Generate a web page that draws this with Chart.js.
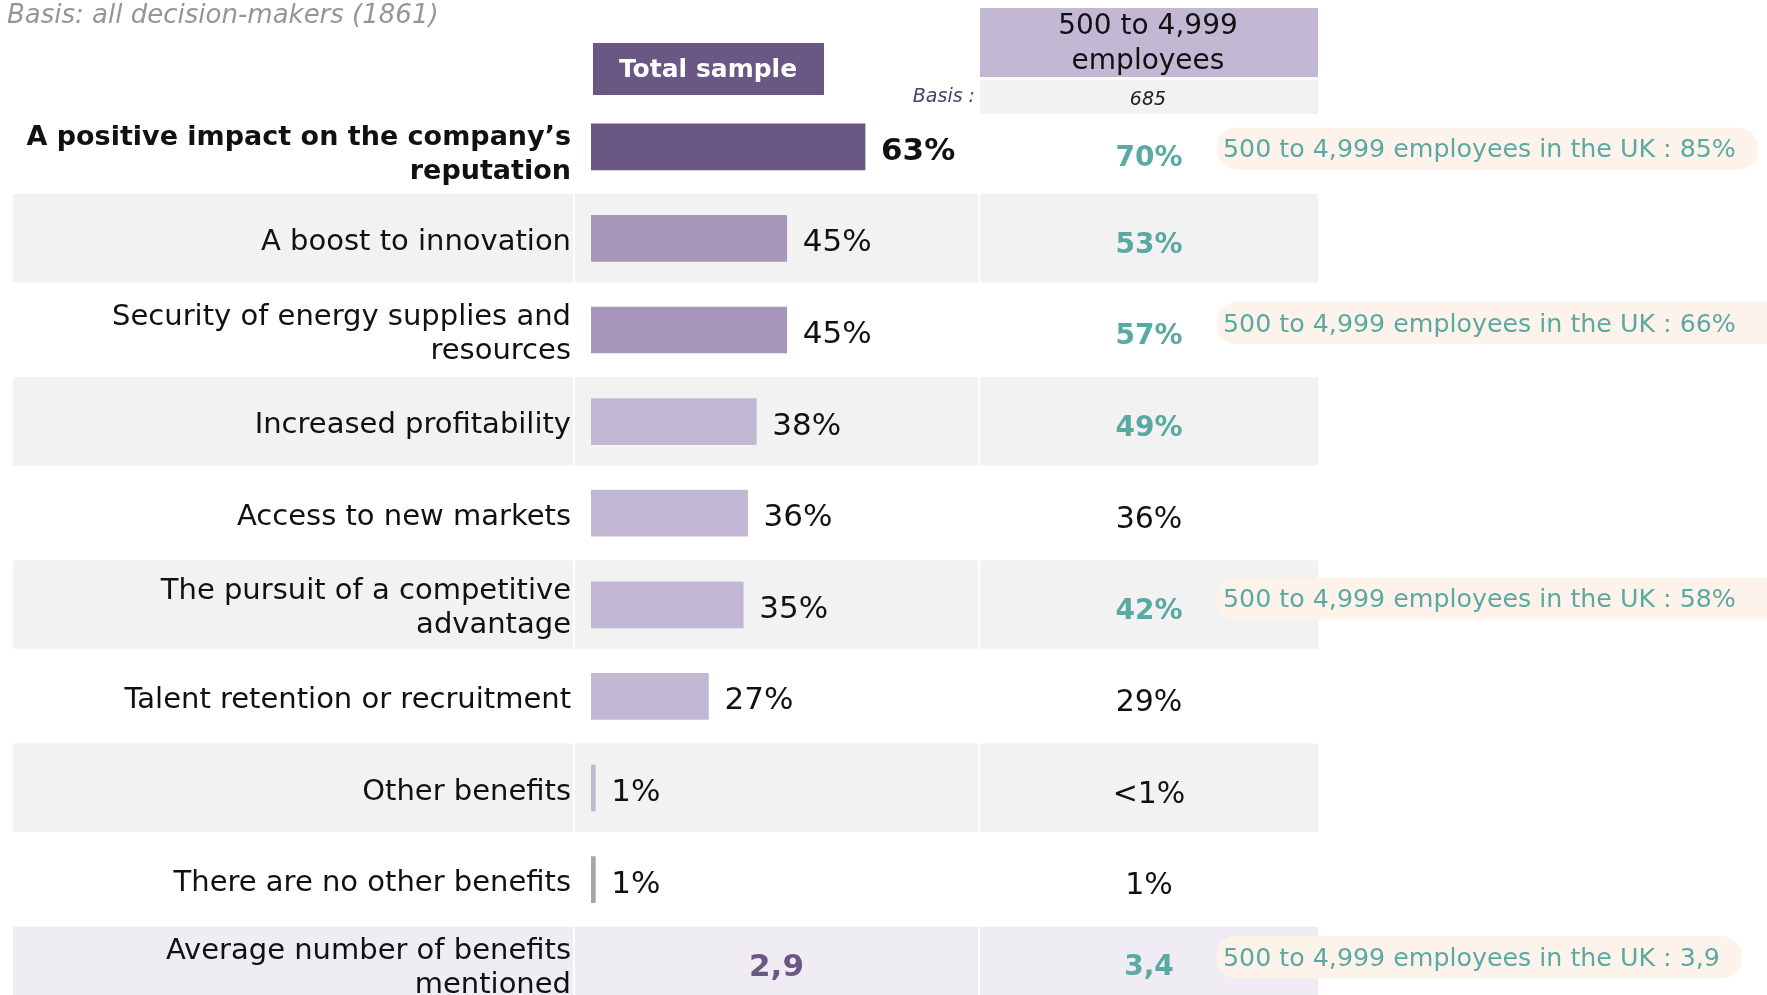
<!DOCTYPE html>
<html>
<head>
<meta charset="utf-8">
<script src="https://cdn.jsdelivr.net/npm/chart.js@4.4.1/dist/chart.umd.min.js"></script>
<style>
    html, body { margin: 0; padding: 0; background: #fff; overflow: hidden; }
    #wrap { position: relative; width: 1767px; height: 995px; overflow: hidden; }
    #myChart { position: absolute; left: 0; top: 0; }
</style>
</head>
<body>
<div id="wrap"><canvas id="myChart" width="1767" height="1020"></canvas></div>
<script>
//data
var subtitle = "Basis: all decision-makers (1861)";
var totalHeader = "Total sample";
var segmentHeader = ["500 to 4,999", "employees"];
var segmentBasis = "685";

var categories = [
    ["A positive impact on the company\u2019s", "reputation"],
    "A boost to innovation",
    ["Security of energy supplies and", "resources"],
    "Increased profitability",
    "Access to new markets",
    ["The pursuit of a competitive", "advantage"],
    "Talent retention or recruitment",
    "Other benefits",
    "There are no other benefits",
    ["Average number of benefits", "mentioned"]
];
var totalValues = [63, 45, 45, 38, 36, 35, 27, 1, 1, null];
var totalLabels = ["63%", "45%", "45%", "38%", "36%", "35%", "27%", "1%", "1%", "2,9"];
var segmentLabels = ["70%", "53%", "57%", "49%", "36%", "42%", "29%", "<1%", "1%", "3,4"];
var segmentSignificant = [true, true, true, true, false, true, false, false, false, true];
var ukNotes = [
    "500 to 4,999 employees in the UK : 85%", null,
    "500 to 4,999 employees in the UK : 66%", null, null,
    "500 to 4,999 employees in the UK : 58%", null, null, null,
    "500 to 4,999 employees in the UK : 3,9"
];

//colours
var DARK = "#6b5784";
var MID = "#a796ba";
var LIGHT = "#c3b8d3";
var GREY_BAR = "#a6a6a6";
var BAND = "#f2f2f2";
var BAND_AVG = "#efecf3";
var TEAL = "#5aa9a3";
var PILL = "#fdf3ea";
var FONT = '"DejaVu Sans", sans-serif';

var barColors = [DARK, MID, MID, LIGHT, LIGHT, LIGHT, LIGHT, LIGHT, GREY_BAR, LIGHT];

//column edges in px
var COL_LABEL = [13, 573];
var COL_BAR = [575, 978];
var COL_SEG = [980, 1318];
var pillOffset = [2, 0, -7, 0, 0, -6, 0, 0, 0, -14];
var pillExtra = [0, 0, 40, 0, 0, 40, 0, 0, 0, 0];

function rowY(chart, i) {
    return chart.scales.y.getPixelForValue(i);
}

function roundRect(ctx, x, y, w, h, r) {
    ctx.beginPath();
    ctx.moveTo(x + r, y);
    ctx.lineTo(x + w - r, y);
    ctx.arc(x + w - r, y + r, r, -Math.PI / 2, 0);
    ctx.lineTo(x + w, y + h - r);
    ctx.arc(x + w - r, y + h - r, r, 0, Math.PI / 2);
    ctx.lineTo(x + r, y + h);
    ctx.arc(x + r, y + h - r, r, Math.PI / 2, Math.PI);
    ctx.lineTo(x, y + r);
    ctx.arc(x + r, y + r, r, Math.PI, Math.PI * 1.5);
    ctx.closePath();
}

//backgrounds + header boxes, under the bars
var tablePlugin = {
    id: "tableBack",
    beforeDatasetsDraw: function (chart) {
        var ctx = chart.ctx;
        ctx.save();
        for (var i = 0; i < categories.length; i++) {
            var last = i === categories.length - 1;
            if (i % 2 === 1 || last) {
                var y = rowY(chart, i);
                ctx.fillStyle = last ? BAND_AVG : BAND;
                var top = y - 44.5, h = 88.5;
                if (last) { h = 120; }
                [COL_LABEL, COL_BAR, COL_SEG].forEach(function (c) {
                    ctx.fillRect(c[0], top, c[1] - c[0], h);
                });
            }
        }

        //subtitle
        ctx.fillStyle = "#969696";
        ctx.font = "italic 26px " + FONT;
        ctx.textAlign = "left";
        ctx.textBaseline = "middle";
        ctx.fillText(subtitle, 7, 16);

        //total sample box
        ctx.fillStyle = DARK;
        ctx.fillRect(593, 43, 231, 52);
        ctx.fillStyle = "#fff";
        ctx.font = "bold 25px " + FONT;
        ctx.textAlign = "center";
        ctx.fillText(totalHeader, 708, 70);

        //segment header
        ctx.fillStyle = LIGHT;
        ctx.fillRect(COL_SEG[0], 8, COL_SEG[1] - COL_SEG[0], 69);
        ctx.fillStyle = "#111";
        ctx.font = "28px " + FONT;
        ctx.fillText(segmentHeader[0], 1148, 27);
        ctx.fillText(segmentHeader[1], 1148, 62);

        //basis
        ctx.fillStyle = BAND;
        ctx.fillRect(COL_SEG[0], 80, COL_SEG[1] - COL_SEG[0], 34);
        ctx.fillStyle = "#222";
        ctx.font = "italic 19px " + FONT;
        ctx.fillText(segmentBasis, 1148, 100);
        ctx.fillStyle = "#4d4060";
        ctx.textAlign = "right";
        ctx.fillText("Basis :", 975, 97);
        ctx.restore();
    },
    afterDatasetsDraw: function (chart) {
        var ctx = chart.ctx;
        var meta = chart.getDatasetMeta(0);
        ctx.save();
        ctx.textBaseline = "middle";
        for (var i = 0; i < categories.length; i++) {
            var y = rowY(chart, i);
            var last = i === categories.length - 1;
            var yc = last ? y - 3 : y + 4;

            //row label
            var lines = Array.isArray(categories[i]) ? categories[i] : [categories[i]];
            ctx.fillStyle = "#111";
            ctx.font = (i === 0 ? "bold 27px " : "29px ") + FONT;
            ctx.textAlign = "right";
            var ly = i === 0 ? yc + 4 : yc;
            for (var l = 0; l < lines.length; l++) {
                ctx.fillText(lines[l], 571, ly + (l - (lines.length - 1) / 2) * 34);
            }

            //total value
            if (totalValues[i] !== null) {
                var bar = meta.data[i];
                ctx.textAlign = "left";
                ctx.font = (i === 0 ? "bold " : "") + "31px " + FONT;
                ctx.fillStyle = "#111";
                ctx.fillText(totalLabels[i], bar.x + 16, y + 5);
            } else {
                ctx.textAlign = "center";
                ctx.font = "bold 31px " + FONT;
                ctx.fillStyle = DARK;
                ctx.fillText(totalLabels[i], (COL_BAR[0] + COL_BAR[1]) / 2, yc);
            }

            //segment value
            ctx.textAlign = "center";
            ctx.font = (segmentSignificant[i] ? "bold 28px " : "30px ") + FONT;
            ctx.fillStyle = segmentSignificant[i] ? TEAL : "#111";
            ctx.fillText(segmentLabels[i], 1149, last ? yc : y + (i === 0 ? 12 : 7));

            //UK note pill
            if (ukNotes[i]) {
                ctx.font = "25.3px " + FONT;
                var w = ctx.measureText(ukNotes[i]).width;
                var py = y + pillOffset[i];
                ctx.fillStyle = PILL;
                roundRect(ctx, 1217, py - 21, w + 28 + pillExtra[i], 42, 19);
                ctx.fill();
                ctx.fillStyle = TEAL;
                ctx.textAlign = "left";
                ctx.fillText(ukNotes[i], 1223, py + 2);
            }
        }
        ctx.restore();
    }
};

var ctx = document.getElementById("myChart").getContext("2d");
window.myChart = new Chart(ctx, {
    type: "bar",
    data: {
        labels: categories,
        datasets: [{
            data: totalValues,
            backgroundColor: barColors,
            barThickness: 46,
            borderWidth: 0
        }]
    },
    options: {
        indexAxis: "y",
        responsive: false,
        animation: false,
        layout: { padding: { left: 591, right: 741, top: 101, bottom: 3 } },
        scales: {
            x: { display: false, min: 0, max: 100 },
            y: { display: false }
        },
        plugins: {
            legend: { display: false },
            tooltip: { enabled: false }
        }
    },
    plugins: [tablePlugin]
});
</script>
</body>
</html>
